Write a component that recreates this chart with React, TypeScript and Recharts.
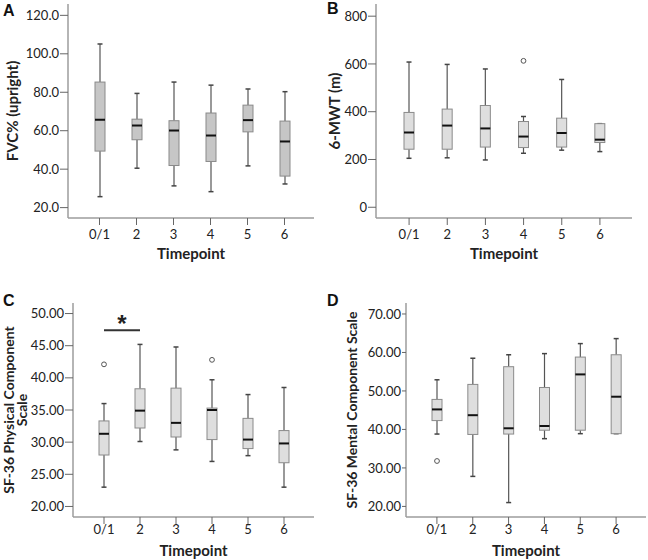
import React from "react";
import { ComposedChart, Bar, XAxis, YAxis, ReferenceLine } from "recharts";

const timepoints = ["0/1", "2", "3", "4", "5", "6"];

// A: FVC% (upright)
const fvcMin = [25.7, 40.5, 31.3, 28.3, 41.7, 32.3];
const fvcQ1 = [49.4, 55.3, 41.9, 44.0, 59.4, 36.4];
const fvcMed = [65.7, 62.7, 60.1, 57.5, 65.5, 54.4];
const fvcQ3 = [85.3, 66.0, 65.2, 69.2, 73.3, 65.0];
const fvcMax = [105.1, 79.4, 85.3, 83.7, 81.7, 80.3];
const fvcOut = [null, null, null, null, null, null];
const fvcTicks = [20, 40, 60, 80, 100, 120];

// B: 6-MWT (m)
const mwtMin = [205, 207, 198, 226, 239, 233];
const mwtQ1 = [243, 243, 252, 250, 252, 271];
const mwtMed = [313, 342, 330, 296, 311, 283];
const mwtQ3 = [397, 411, 426, 359, 373, 350];
const mwtMax = [608, 598, 579, 380, 535, 350];
const mwtOut = [null, null, null, 613, null, null];
const mwtTicks = [0, 200, 400, 600, 800];

// C: SF-36 physical component
const pcsMin = [23.0, 30.1, 28.8, 27.0, 27.9, 23.0];
const pcsQ1 = [28.0, 32.2, 30.8, 30.4, 29.0, 26.8];
const pcsMed = [31.3, 34.9, 33.0, 35.0, 30.4, 29.8];
const pcsQ3 = [33.3, 38.3, 38.4, 35.3, 33.7, 31.8];
const pcsMax = [36.0, 45.2, 44.8, 39.7, 37.4, 38.5];
const pcsOut = [42.1, null, null, 42.8, null, null];
const pcsTicks = [20, 25, 30, 35, 40, 45, 50];

// D: SF-36 mental component
const mcsMin = [38.8, 27.8, 21.0, 37.6, 38.9, 38.9];
const mcsQ1 = [42.3, 38.7, 38.8, 39.8, 39.8, 38.9];
const mcsMed = [45.2, 43.7, 40.3, 40.9, 54.3, 48.5];
const mcsQ3 = [47.8, 51.7, 56.3, 50.9, 58.8, 59.4];
const mcsMax = [52.9, 58.5, 59.4, 59.7, 62.3, 63.6];
const mcsOut = [31.8, null, null, null, null, null];
const mcsTicks = [20, 30, 40, 50, 60, 70];

type Row = { t: string; min: number; q1: number; med: number; q3: number; max: number; out: number | null };

function rows(min: number[], q1: number[], med: number[], q3: number[], max: number[], out: (number | null)[]): Row[] {
  return timepoints.map((t, i) => ({ t, min: min[i], q1: q1[i], med: med[i], q3: q3[i], max: max[i], out: out[i] }));
}

const FONT = "Lato, 'Open Sans', sans-serif";
const FRAME = "#9c9c9c";

function BoxShape(props: any) {
  const { x, y, width, height, payload, fill } = props;
  if (!payload) return null;
  const d = payload as Row;
  // the bar spans min..max, so interpolate the inner stats along it
  const py = (v: number) => y + (height * (d.max - v)) / (d.max - d.min);
  const cx = x + width / 2;
  const cap = 2.5;
  return (
    <g>
      <line x1={cx} x2={cx} y1={py(d.max)} y2={py(d.q3)} stroke="#555" strokeWidth={1.2} />
      <line x1={cx} x2={cx} y1={py(d.q1)} y2={py(d.min)} stroke="#555" strokeWidth={1.2} />
      <line x1={cx - cap} x2={cx + cap} y1={py(d.max)} y2={py(d.max)} stroke="#444" strokeWidth={1.5} />
      <line x1={cx - cap} x2={cx + cap} y1={py(d.min)} y2={py(d.min)} stroke="#444" strokeWidth={1.5} />
      <rect x={x} y={py(d.q3)} width={width} height={py(d.q1) - py(d.q3)} fill={fill} stroke="#8a8a8a" strokeWidth={1} />
      <line x1={x} x2={x + width} y1={py(d.med)} y2={py(d.med)} stroke="#111" strokeWidth={2} />
      {d.out != null && <circle cx={cx} cy={py(d.out)} r={2.4} fill="#fff" stroke="#555" strokeWidth={1} />}
    </g>
  );
}

const yTitle = (lines: string[], x: number, size: number, gap: number) => (p: any) => {
  const vb = p.viewBox;
  const cy = vb.y + vb.height / 2;
  return (
    <text
      x={x}
      y={cy}
      transform={`rotate(-90 ${x} ${cy})`}
      textAnchor="middle"
      fontFamily={FONT}
      fontWeight={700}
      fontSize={size}
      fill="#222"
    >
      {lines.map((l, i) => (
        <tspan key={i} x={x} dy={i === 0 ? 0 : gap}>
          {l}
        </tspan>
      ))}
    </text>
  );
};

const xTitle = (dy: number) => (p: any) => {
  const vb = p.viewBox;
  return (
    <text x={vb.x + vb.width / 2} y={vb.y + dy} textAnchor="middle" fontFamily={FONT} fontWeight={700} fontSize={15} fill="#222">
      Timepoint
    </text>
  );
};

type PanelProps = {
  data: Row[];
  left: number;
  top: number;
  mTop: number;
  mRight: number;
  yWidth: number;
  xHeight: number;
  domain: [number, number];
  ticks: number[];
  fmt: (v: number) => string;
  fill: string;
  yTickSize: number;
  xTickMargin: number;
  pad: { left: number; right: number };
  yLabel: (p: any) => React.ReactElement;
  xLabelDy: number;
  children?: React.ReactNode;
};

function Panel(p: PanelProps) {
  return (
    <div style={{ position: "absolute", left: p.left, top: p.top }}>
      <ComposedChart width={324} height={280} data={p.data} margin={{ top: p.mTop, right: p.mRight, bottom: 0, left: 0 }}>
        <XAxis
          dataKey="t"
          interval={0}
          height={p.xHeight}
          padding={p.pad}
          axisLine={{ stroke: FRAME, strokeWidth: 1.5 }}
          tickLine={{ stroke: "#666" }}
          tickSize={7}
          tickMargin={p.xTickMargin}
          tick={{ fill: "#222", fontSize: 13, fontFamily: FONT }}
          label={{ content: xTitle(p.xLabelDy) }}
        />
        <XAxis xAxisId="top" dataKey="t" orientation="top" height={0} tick={false} tickLine={false} axisLine={{ stroke: FRAME, strokeWidth: 1.5 }} />
        <YAxis
          width={p.yWidth}
          domain={p.domain}
          allowDataOverflow
          ticks={p.ticks}
          interval={0}
          tickFormatter={p.fmt}
          axisLine={{ stroke: FRAME, strokeWidth: 1.5 }}
          tickLine={{ stroke: "#666" }}
          tickSize={p.yTickSize}
          tickMargin={1}
          tick={{ fill: "#222", fontSize: 13, fontFamily: FONT }}
          label={{ content: p.yLabel }}
        />
        <YAxis yAxisId="r" orientation="right" width={0} domain={[0, 1]} tick={false} tickLine={false} axisLine={{ stroke: FRAME, strokeWidth: 1.5 }} />
        <Bar dataKey={(d: Row) => [d.min, d.max]} barSize={10} fill={p.fill} shape={BoxShape} isAnimationActive={false} />
        {p.children}
      </ComposedChart>
    </div>
  );
}

const letterStyle = (left: number, top: number): React.CSSProperties => ({
  position: "absolute",
  left,
  top,
  fontFamily: "'Liberation Sans', Arial, sans-serif",
  fontWeight: 700,
  fontSize: 16,
  lineHeight: "16px",
  color: "#111",
});

export default function App() {
  return (
    <div style={{ position: "absolute", left: 0, top: 0, width: 648, height: 560, background: "#fff", fontFamily: FONT }}>
      <Panel
        data={rows(fvcMin, fvcQ1, fvcMed, fvcQ3, fvcMax, fvcOut)}
        left={0}
        top={0}
        mTop={4}
        mRight={10}
        yWidth={68}
        xHeight={62}
        domain={[14.6, 125.9]}
        ticks={fvcTicks}
        fmt={(v) => v.toFixed(1)}
        fill="#c6c6c6"
        yTickSize={8}
        xTickMargin={5}
        pad={{ left: 13, right: 11 }}
        yLabel={yTitle(["FVC% (upright)"], 18, 15, 0)}
        xLabelDy={41}
      />
      <Panel
        data={rows(mwtMin, mwtQ1, mwtMed, mwtQ3, mwtMax, mwtOut)}
        left={324}
        top={0}
        mTop={4}
        mRight={16}
        yWidth={52}
        xHeight={62}
        domain={[-45, 851]}
        ticks={mwtTicks}
        fmt={(v) => String(v)}
        fill="#dedede"
        yTickSize={8}
        xTickMargin={5}
        pad={{ left: 14, right: 13 }}
        yLabel={yTitle(["6-MWT (m)"], 16, 15, 0)}
        xLabelDy={41}
      />
      <Panel
        data={rows(pcsMin, pcsQ1, pcsMed, pcsQ3, pcsMax, pcsOut)}
        left={0}
        top={280}
        mTop={23}
        mRight={10}
        yWidth={73}
        xHeight={43}
        domain={[18.36, 51.64]}
        ticks={pcsTicks}
        fmt={(v) => v.toFixed(2)}
        fill="#dedede"
        yTickSize={8}
        xTickMargin={1}
        pad={{ left: 13, right: 12 }}
        yLabel={yTitle(["SF-36 Physical Component", "Scale"], 14, 14, 12.5)}
        xLabelDy={39}
      >
        <ReferenceLine
          segment={[
            { x: "0/1", y: 47.4 },
            { x: "2", y: 47.4 },
          ]}
          stroke="#333"
          strokeWidth={2}
          label={{ value: "*", position: "top", offset: -2, fill: "#222", fontSize: 24, fontWeight: 700, fontFamily: "'Liberation Sans', Arial, sans-serif" }}
        />
      </Panel>
      <Panel
        data={rows(mcsMin, mcsQ1, mcsMed, mcsQ3, mcsMax, mcsOut)}
        left={324}
        top={280}
        mTop={23}
        mRight={2}
        yWidth={82}
        xHeight={43}
        domain={[17.25, 72.85]}
        ticks={mcsTicks}
        fmt={(v) => v.toFixed(2)}
        fill="#dedede"
        yTickSize={4}
        xTickMargin={1}
        pad={{ left: 13, right: 12 }}
        yLabel={yTitle(["SF-36 Mental Component Scale"], 32.5, 14, 0)}
        xLabelDy={39}
      />
      <div style={letterStyle(3, 3)}>A</div>
      <div style={letterStyle(327, 1)}>B</div>
      <div style={letterStyle(3, 293)}>C</div>
      <div style={letterStyle(327, 293)}>D</div>
    </div>
  );
}
